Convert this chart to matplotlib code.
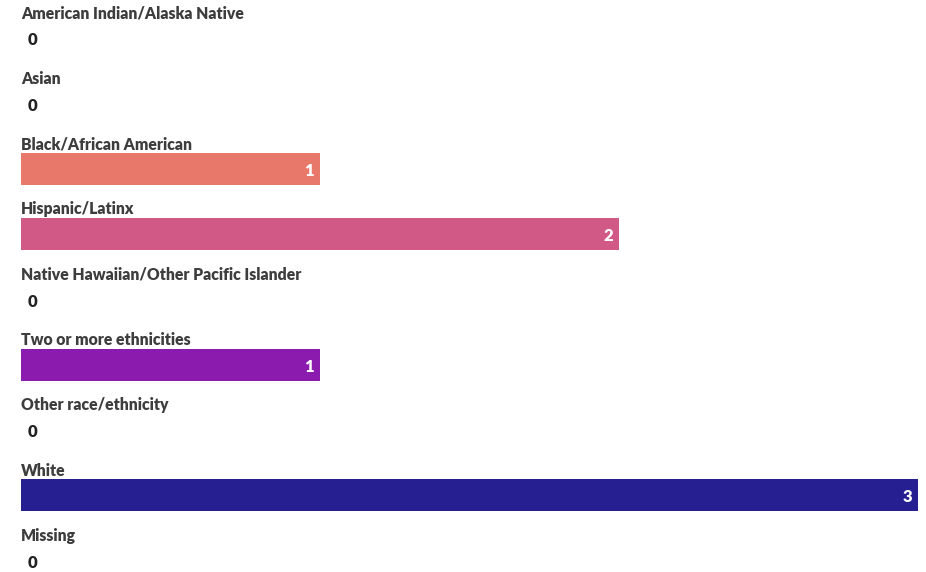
import matplotlib
matplotlib.use("Agg")
import matplotlib.pyplot as plt
from matplotlib import transforms

categories = [
    "American Indian/Alaska Native",
    "Asian",
    "Black/African American",
    "Hispanic/Latinx",
    "Native Hawaiian/Other Pacific Islander",
    "Two or more ethnicities",
    "Other race/ethnicity",
    "White",
    "Missing",
]
counts = [0, 0, 1, 2, 0, 1, 0, 3, 0]
bar_colors = ["#EE8A5E", "#EA7F69", "#E8796A", "#D05A85", "#B53C9E",
              "#8A1BAE", "#5A1CA6", "#251F91", "#1A1670"]

plt.rcParams["font.family"] = ["Lato", "DejaVu Sans"]

W, H = 926, 572
fig = plt.figure(figsize=(W / 100, H / 100), dpi=100)
ax = fig.add_axes([0, 0, 1, 1])

px_per_unit = 299.0
row_px = 65.3
row0_px = 38.4
ax.set_xlim(-21 / px_per_unit, (W - 21) / px_per_unit)
ax.set_ylim((H - row0_px) / row_px, -row0_px / row_px)
ax.axis("off")

rows = list(range(len(categories)))
ax.barh(rows, counts, height=32 / row_px, color=bar_colors, edgecolor="none")

for r, (cat, v) in enumerate(zip(categories, counts)):
    lab = transforms.offset_copy(ax.transData, fig=fig, x=0, y=-2, units="dots")
    ax.text(0, r - 27 / row_px, cat, ha="left", va="center", transform=lab,
            fontsize=11.3, fontweight="heavy", color="#3d3d3d")
    if v > 0:
        off = transforms.offset_copy(ax.transData, fig=fig, x=-6, y=-2, units="dots")
        ax.text(v, r, str(v), transform=off, ha="right", va="center",
                fontsize=12, fontweight="heavy", color="white")
    else:
        off = transforms.offset_copy(ax.transData, fig=fig, x=7, y=-2, units="dots")
        ax.text(0, r, str(v), transform=off, ha="left", va="center",
                fontsize=12, fontweight="heavy", color="#222222")

fig.savefig("out.png", dpi=100)
